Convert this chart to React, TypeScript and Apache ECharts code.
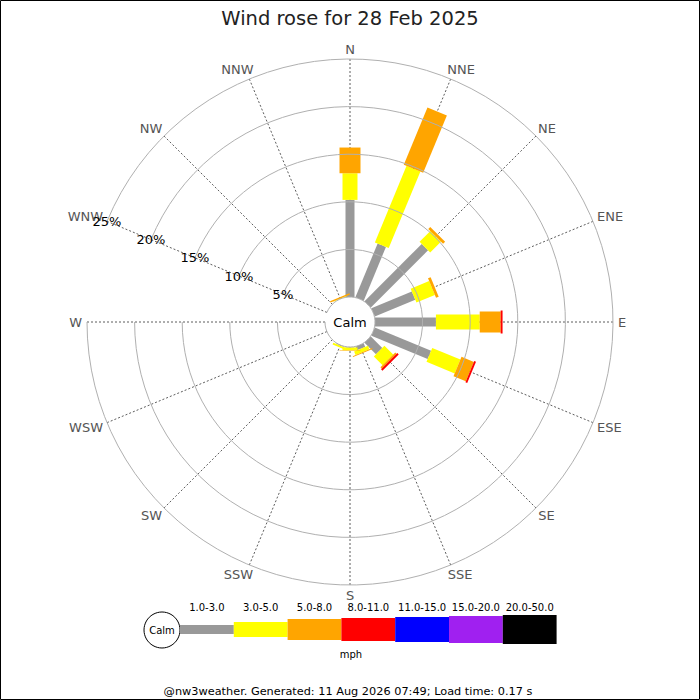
import React, { useEffect, useRef } from 'react';
import * as echarts from 'echarts';

// ---- data ----
const titleText = 'Wind rose for 28 Feb 2025';
const directions = ['N', 'NNE', 'NE', 'ENE', 'E', 'ESE', 'SE', 'SSE', 'S', 'SSW', 'SW', 'WSW', 'W', 'WNW', 'NW', 'NNW'];
const speedBands = ['1.0-3.0', '3.0-5.0', '5.0-8.0', '8.0-11.0', '11.0-15.0', '15.0-20.0', '20.0-50.0'];
const speedUnit = 'mph';
// percentage of time per direction for each speed band (N .. NNW)
const band1to3 = [10.2, 6.1, 8.5, 4.6, 6.4, 6.4, 1.7, 0.4, 0.05, 0.05, 0, 0, 0, 0, 0, 0];
const band3to5 = [2.8, 8.7, 1.6, 2.1, 4.6, 3.2, 1.3, 0.4, 0.3, 0.2, 0, 0, 0, 0, 0, 0.05];
const band5to8 = [2.7, 6.5, 0.3, 0.3, 2.2, 1.4, 0.2, 0.1, 0.05, 0, 0, 0, 0, 0, 0, 0.15];
const band8to11 = [0, 0, 0, 0, 0.2, 0.2, 0.2, 0, 0, 0, 0, 0, 0, 0, 0, 0];
const band11to15 = [0, 0, 0, 0, 0, 0, 0, 0, 0, 0, 0, 0, 0, 0, 0, 0];
const band15to20 = [0, 0, 0, 0, 0, 0, 0, 0, 0, 0, 0, 0, 0, 0, 0, 0];
const band20to50 = [0, 0, 0, 0, 0, 0, 0, 0, 0, 0, 0, 0, 0, 0, 0, 0];
const radiusMax = 25;
const radiusStep = 5;
const footerText = '@nw3weather. Generated: 11 Aug 2026 07:49; Load time: 0.17 s';

// ---- styles ----
const bandColors = ['#999999', '#ffff00', '#ffa500', '#ff0000', '#0000ff', '#a020f0', '#000000'];
const bandWidths = [9, 15, 21, 23, 25, 27, 29];
const FONT = 'DejaVu Sans';
const CX = 350;
const CY = 322;
const R0 = 25;
const R1 = 263;

function textWidth(text: string, size: number): number {
  const c = document.createElement('canvas').getContext('2d');
  if (!c) return text.length * size * 0.65;
  c.font = `${size}px "${FONT}"`;
  return c.measureText(text).width;
}

export default function App() {
  const ref = useRef<HTMLDivElement>(null);
  useEffect(() => {
    if (!ref.current) return;
    const chart = echarts.init(ref.current, undefined, { renderer: 'svg' });
    const bands = [band1to3, band3to5, band5to8, band8to11, band11to15, band15to20, band20to50];
    // angle axis starts at WNW so the radius labels run along that spoke
    const startIdx = directions.indexOf('WNW');
    const axisDirs = directions.map((_, k) => directions[(k + startIdx) % directions.length]);
    const segs: number[][] = [];
    directions.forEach((d, i) => {
      const a = axisDirs.indexOf(d);
      let cum = 0;
      bands.forEach((arr, b) => {
        const v = arr[i];
        if (v > 0) segs.push([a, cum, cum + v, b]);
        cum += v;
      });
    });

    // compass labels around the rim
    const dirLabelSize = 13;
    const labelR = R1 + 5;
    const dirLabels = directions.map((d, i) => {
      const th = (i * 2 * Math.PI) / directions.length;
      const s = Math.sin(th);
      const c = Math.cos(th);
      const w = textWidth(d, dirLabelSize);
      const h = 10;
      const sx = Math.abs(s) < 1e-6 ? 0 : Math.sign(s) * Math.sqrt(Math.abs(s));
      const sy = Math.abs(c) < 1e-6 ? 0 : Math.sign(c) * Math.sqrt(Math.abs(c));
      return {
        type: 'text',
        x: CX + labelR * s + (w / 2) * sx,
        y: CY - labelR * c - (h / 2) * sy,
        style: {
          text: d,
          fontSize: dirLabelSize,
          fontFamily: FONT,
          fill: '#555',
          align: 'center',
          verticalAlign: 'middle',
        },
      };
    });

    const legendX0 = 180;
    const legendBoxW = 53.8;
    const legendY = 629.5;
    const legendGraphics: any[] = [];
    speedBands.forEach((lab, b) => {
      const x = legendX0 + b * legendBoxW;
      legendGraphics.push({
        type: 'rect',
        shape: { x, y: legendY - bandWidths[b] / 2, width: legendBoxW, height: bandWidths[b] },
        style: { fill: bandColors[b] },
      });
      legendGraphics.push({
        type: 'text',
        x: x + legendBoxW / 2,
        y: 607,
        style: { text: lab, fontSize: 10, fontFamily: FONT, fill: '#000', align: 'center', verticalAlign: 'middle' },
      });
    });

    chart.setOption({
      animation: false,
      textStyle: { fontFamily: FONT },
      title: {
        text: titleText,
        left: 'center',
        top: 3,
        textStyle: { fontSize: 19.5, fontWeight: 'normal', fontFamily: FONT, color: '#222' },
      },
      polar: { center: [CX, CY], radius: [R0, R1] },
      angleAxis: {
        type: 'category',
        data: axisDirs,
        startAngle: 157.5,
        clockwise: true,
        boundaryGap: false,
        axisLine: { show: false },
        axisTick: { show: false },
        axisLabel: { show: false, interval: 0 },
        splitLine: { show: true, interval: 0, lineStyle: { color: '#333', width: 0.8, type: [2, 2] } },
        z: 1,
      },
      radiusAxis: {
        type: 'value',
        min: 0,
        max: radiusMax,
        interval: radiusStep,
        axisLine: { show: false },
        axisTick: { show: false },
        axisLabel: {
          margin: 0,
          align: 'center',
          verticalAlign: 'middle',
          color: '#000',
          fontSize: 13,
          fontFamily: FONT,
          formatter: (v: number) => (v === 0 ? '' : v + '%'),
        },
        splitLine: { show: true, lineStyle: { color: '#b0b0b0', width: 1 } },
        z: 5,
      },
      series: [
        {
          type: 'custom',
          coordinateSystem: 'polar',
          dimensions: ['dir', 'start', 'end', 'band'],
          encode: { angle: 0, radius: [1, 2] },
          data: segs,
          z: 3,
          renderItem: (params: any, api: any) => {
            const dir = api.value(0);
            const s = api.value(1);
            const e = api.value(2);
            const b = api.value(3);
            const cs = params.coordSys;
            const p0 = api.coord([s, dir]);
            const p1 = api.coord([e, dir]);
            let ux = p0[0] - cs.cx;
            let uy = p0[1] - cs.cy;
            const len = Math.sqrt(ux * ux + uy * uy) || 1;
            ux /= len;
            uy /= len;
            const hw = bandWidths[b] / 2;
            const nx = -uy * hw;
            const ny = ux * hw;
            return {
              type: 'polygon',
              shape: {
                points: [
                  [p0[0] + nx, p0[1] + ny],
                  [p1[0] + nx, p1[1] + ny],
                  [p1[0] - nx, p1[1] - ny],
                  [p0[0] - nx, p0[1] - ny],
                ],
              },
              style: { fill: bandColors[b] },
            };
          },
        },
      ],
      graphic: [
        {
          type: 'rect',
          z: 100,
          shape: { x: 0.5, y: 0.5, width: 699, height: 699 },
          style: { fill: 'none', stroke: '#000', lineWidth: 1 },
        },
        ...dirLabels,
        {
          type: 'text',
          z: 100,
          x: CX,
          y: CY,
          style: { text: 'Calm', fontSize: 13, fontFamily: FONT, fill: '#000', align: 'center', verticalAlign: 'middle' },
        },
        {
          type: 'circle',
          shape: { cx: 162, cy: 630, r: 18 },
          style: { fill: '#fff', stroke: '#000', lineWidth: 1 },
        },
        {
          type: 'text',
          x: 162,
          y: 630,
          style: { text: 'Calm', fontSize: 10, fontFamily: FONT, fill: '#000', align: 'center', verticalAlign: 'middle' },
        },
        ...legendGraphics,
        {
          type: 'text',
          x: 351,
          y: 654,
          style: { text: speedUnit, fontSize: 10, fontFamily: FONT, fill: '#000', align: 'center', verticalAlign: 'middle' },
        },
        {
          type: 'text',
          x: 348,
          y: 691,
          style: { text: footerText, fontSize: 11.3, fontFamily: FONT, fill: '#000', align: 'center', verticalAlign: 'middle' },
        },
      ],
    });
    return () => chart.dispose();
  }, []);
  return (
    <div
      ref={ref}
      style={{ position: 'absolute', left: 0, top: 0, width: 700, height: 700, background: '#fff' }}
    />
  );
}
